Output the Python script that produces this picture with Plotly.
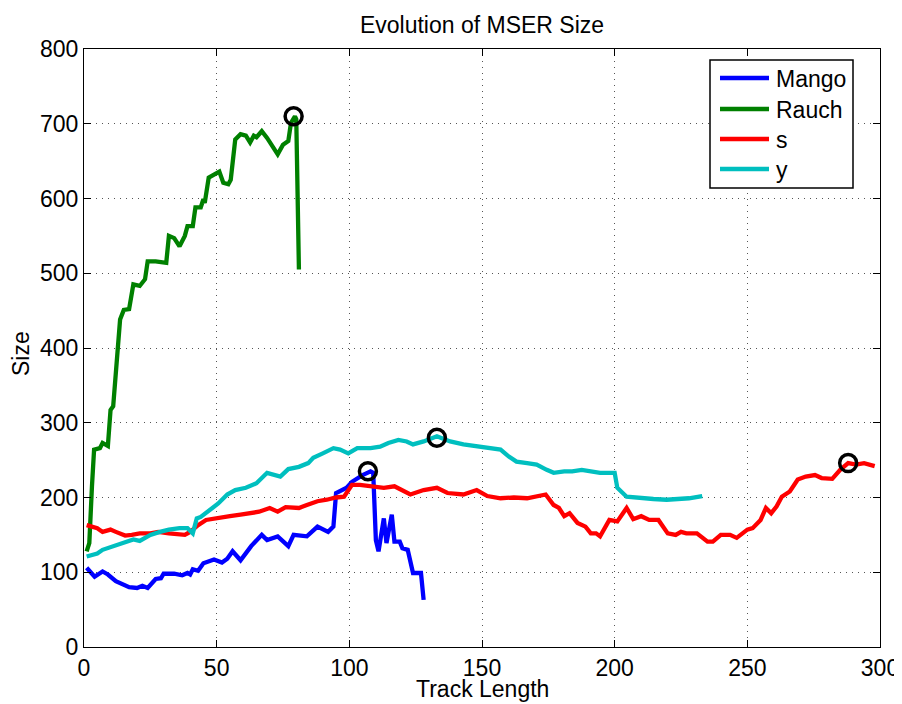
import plotly.graph_objects as go

# ---- data ----
mango_x = [1, 4, 7, 9, 12, 15, 17, 20, 22, 24, 27, 29, 30, 34, 37, 39, 40, 41, 43, 45, 49, 52, 54, 56, 59, 63, 67, 69, 73, 77, 79, 84, 88, 92, 94, 95, 97, 99, 101, 103, 105, 108, 109, 110, 111, 113, 114, 116, 117, 119, 120, 122, 124, 127, 128]
mango_y = [106, 94, 101, 97, 88, 84, 80, 79, 82, 79, 91, 92, 98, 98, 96, 99, 97, 104, 102, 112, 117, 113, 118, 128, 116, 135, 150, 143, 148, 135, 150, 148, 161, 154, 161, 206, 210, 213, 221, 226, 230, 235, 233, 143, 128, 172, 139, 177, 141, 141, 132, 130, 99, 99, 63]

rauch_x = [1, 2, 3, 3.8, 6, 7, 9, 10, 11, 13.6, 15, 17, 18.6, 21, 23, 24, 27, 31, 32, 34, 36, 38, 39, 41, 42, 44, 45, 45.5, 47, 49, 51, 52.5, 54.4, 55.3, 57, 59, 61, 62.6, 64, 65, 67, 69, 71, 73, 75, 77, 78, 79.5, 80, 81]
rauch_y = [128, 139, 215, 264, 266, 273, 269, 317, 322, 438, 451, 452, 485, 483, 492, 516, 516, 514, 550, 547, 536, 550, 563, 563, 588, 588, 599, 594, 628, 632, 636, 621, 619, 625, 679, 686, 684, 675, 684, 682, 690, 681, 670, 659, 672, 677, 701, 710, 706, 505]

s_x = [1, 5, 7, 10, 12, 15.5, 18, 21, 25, 28, 32, 36, 38, 40, 43, 46, 51, 55, 59, 63, 66, 70, 73, 76, 81, 84, 88, 91.5, 95, 98, 101, 104, 108, 113, 117, 120, 123, 128, 133, 137, 143, 148, 152, 157, 162, 167, 174, 177, 179, 181, 183, 186, 189, 191, 193, 194.5, 198, 201, 204.5, 207, 210, 213, 216.5, 220, 223, 225, 227, 231, 235, 237, 240, 243.5, 246, 250, 252, 255, 257, 259, 261, 263, 266, 269, 272, 275.5, 278, 282, 285, 288, 291, 294, 298]
s_y = [163, 159, 154, 157, 154, 149, 150, 152, 152, 154, 152, 150, 150, 154, 163, 170, 172, 175, 177, 179, 181, 186, 181, 187, 186, 190, 195, 197, 200, 201, 217, 217, 215, 213, 215, 210, 204, 210, 213, 206, 204, 210, 202, 199, 200, 199, 204, 190, 186, 175, 179, 166, 161, 152, 152, 148, 170, 168, 186, 171, 175, 170, 170, 152, 150, 154, 152, 152, 141, 141, 150, 150, 146, 157, 159, 170, 186, 179, 188, 201, 208, 224, 228, 230, 226, 225, 237, 246, 244, 246, 242]

y_x = [1, 5, 7, 11, 15, 18.6, 21, 25, 28.6, 32, 36, 39, 41, 42.5, 44, 47.5, 50.6, 54, 57, 61, 65, 69, 74, 77, 81, 84.5, 86.4, 90, 94, 96.5, 99.6, 103, 108, 111.6, 114.7, 118.5, 121.6, 124, 128, 133, 138, 143, 148, 152, 157, 160, 163, 167, 170.6, 174.4, 177, 181, 184, 187.6, 191, 194.5, 200, 201, 204.5, 209.6, 214.6, 219.6, 224.6, 228, 233]
y_y = [121, 125, 130, 135, 139, 144, 142, 150, 154, 157, 159, 159, 152, 172, 174, 184, 192, 204, 210, 213, 219, 233, 228, 238, 241, 246, 253, 259, 266, 264, 259, 266, 266, 268, 273, 277, 275, 271, 275, 282, 275, 271, 268, 266, 264, 255, 248, 246, 244, 237, 233, 235, 235, 237, 235, 233, 233, 213, 201, 199, 198, 197, 198, 199, 202]

peak_x = [107, 79, 288, 133]
peak_y = [235, 710, 246, 280]

series_names = ["Mango", "Rauch", "s", "y"]
series_colors = ["#0000FF", "#008000", "#FF0000", "#00BFBF"]

x_ticks = [0, 50, 100, 150, 200, 250, 300]
y_ticks = [0, 100, 200, 300, 400, 500, 600, 700, 800]

FONT = "Liberation Sans, Arial, Helvetica, sans-serif"
FS = 23

# The page body has an 8px margin, so the figure is 8px smaller than the window.
W, H = 894, 696
ML, MR, MT, MB = 76, 22, 41, 57
PW, PH = W - ML - MR, H - MT - MB


def px_x(px):  # page pixel -> paper x
    return (px - 8 - ML) / PW


def px_y(py):  # page pixel -> paper y
    return (H - MB - (py - 8)) / PH


fig = go.Figure()
for name, color, xs, ys in zip(series_names, series_colors,
                               [mango_x, rauch_x, s_x, y_x],
                               [mango_y, rauch_y, s_y, y_y]):
    fig.add_trace(go.Scatter(x=xs, y=ys, mode="lines", name=name,
                             line=dict(color=color, width=4.3)))

fig.add_trace(go.Scatter(x=peak_x, y=peak_y, mode="markers", showlegend=False,
                         marker=dict(symbol="circle-open", size=17,
                                     color="black", line=dict(width=3.5, color="black"))))

axis_common = dict(
    showline=True, linecolor="black", linewidth=1, mirror="ticks",
    ticks="inside", ticklen=7, tickcolor="black", tickwidth=1,
    showgrid=True, gridcolor="#555555", gridwidth=1, griddash="1px,5px",
    zeroline=False, automargin=False,
    tickfont=dict(family=FONT, size=FS, color="black"),
)

# legend drawn as box + sample lines + labels (MATLAB style)
shapes = [dict(type="rect", xref="paper", yref="paper",
               x0=px_x(710), x1=px_x(853), y0=px_y(188), y1=px_y(60),
               line=dict(color="black", width=1.5), fillcolor="white", layer="above")]
annotations = []
legend_rows = [78, 109, 139, 169]
for name, color, row in zip(series_names, series_colors, legend_rows):
    shapes.append(dict(type="line", xref="paper", yref="paper",
                       x0=px_x(720), x1=px_x(769), y0=px_y(row), y1=px_y(row),
                       line=dict(color=color, width=4.3), layer="above"))
    annotations.append(dict(text=name, xref="paper", yref="paper",
                            x=px_x(774), y=px_y(row + 1), xanchor="left", yanchor="middle",
                            showarrow=False,
                            font=dict(family=FONT, size=FS, color="black")))

annotations.append(dict(text="Track Length", xref="paper", yref="paper",
                        x=px_x(482), y=px_y(689), xanchor="center", yanchor="middle",
                        showarrow=False, font=dict(family=FONT, size=FS, color="black")))
annotations.append(dict(text="Size", xref="paper", yref="paper", textangle=-90,
                        x=px_x(21), y=px_y(354), xanchor="center", yanchor="middle",
                        showarrow=False, font=dict(family=FONT, size=FS, color="black")))

fig.update_layout(
    width=W, height=H,
    paper_bgcolor="white", plot_bgcolor="white",
    margin=dict(l=ML, r=MR, t=MT, b=MB, autoexpand=False),
    title=dict(text="Evolution of MSER Size", x=(482 - 8) / W, xanchor="center",
               y=1 - (25 - 8) / H, yanchor="middle", automargin=False,
               font=dict(family=FONT, size=FS, color="black")),
    xaxis=dict(range=[0, 300], tickvals=x_ticks, **axis_common),
    yaxis=dict(range=[0, 800], tickvals=y_ticks, **axis_common),
    showlegend=False,
    shapes=shapes,
    annotations=annotations,
)

fig.write_html("out.html")
